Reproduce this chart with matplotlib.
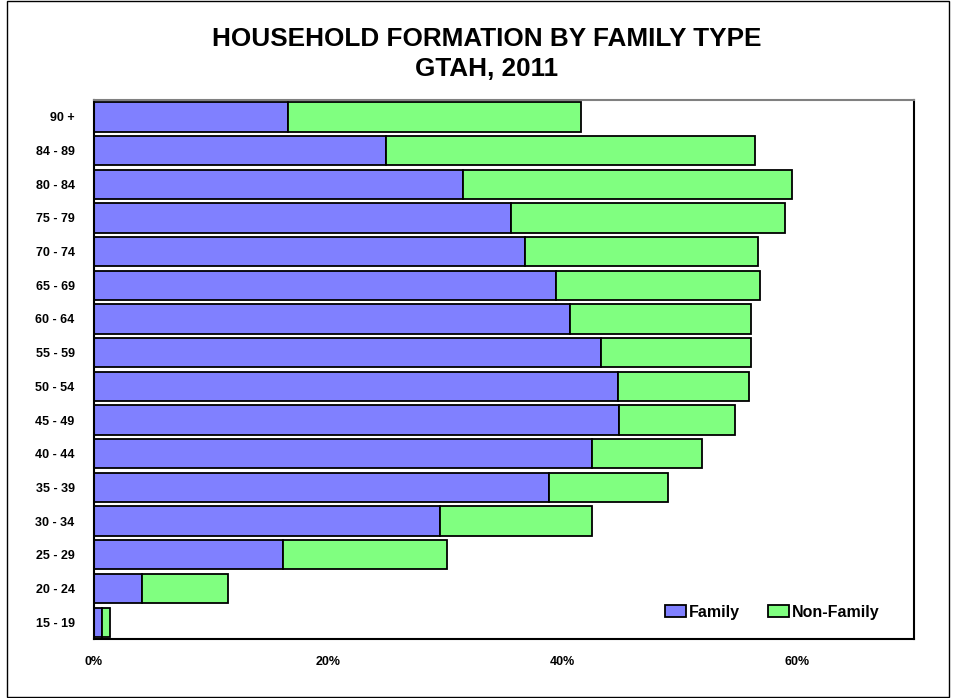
import matplotlib
matplotlib.use("Agg")
import matplotlib.pyplot as plt
from matplotlib.patches import Rectangle

# Age groups (bottom to top) and household formation shares (%)
age_groups = ["15 - 19", "20 - 24", "25 - 29", "30 - 34", "35 - 39", "40 - 44",
              "45 - 49", "50 - 54", "55 - 59", "60 - 64", "65 - 69", "70 - 74",
              "75 - 79", "80 - 84", "84 - 89", "90 +"]
family = [0.7, 4.1, 16.1, 29.5, 38.8, 42.5, 44.8, 44.7, 43.3, 40.6, 39.4, 36.8,
          35.6, 31.5, 24.9, 16.6]
non_family = [0.7, 7.3, 14.0, 13.0, 10.2, 9.4, 9.9, 11.2, 12.8, 15.5, 17.4, 19.9,
              23.4, 28.1, 31.5, 25.0]
x_ticks = [0, 20, 40, 60]
x_tick_labels = ["0%", "20%", "40%", "60%"]

plt.rcParams["font.family"] = ["Liberation Sans", "DejaVu Sans"]

fig = plt.figure(figsize=(9.56, 6.98), dpi=100)
ax = fig.add_axes([0.0983, 0.0845, 0.858, 0.7722])

ypos = list(range(len(age_groups)))
ax.barh(ypos, family, height=0.87, color="#8080FF", edgecolor="black",
        linewidth=1.3, label="Family")
ax.barh(ypos, non_family, left=family, height=0.87, color="#80FF80",
        edgecolor="black", linewidth=1.3, label="Non-Family")

ax.set_xlim(0, 70)
ax.set_ylim(-0.5, len(age_groups) - 0.5)
ax.set_yticks(ypos)
ax.set_yticklabels(age_groups, fontsize=9, fontweight="bold")
ax.set_xticks(x_ticks)
ax.set_xticklabels(x_tick_labels, fontsize=9, fontweight="bold")
ax.tick_params(axis="y", length=0, pad=14)
ax.tick_params(axis="x", length=0, pad=12)

for side in ("left", "right", "bottom"):
    ax.spines[side].set_color("black")
    ax.spines[side].set_linewidth(1.5)
ax.spines["top"].set_color("#808080")
ax.spines["top"].set_linewidth(1.5)

leg = ax.legend(loc="center", bbox_to_anchor=(0.827, 0.05), ncol=2, frameon=False,
                prop={"weight": "bold", "size": 11.5}, handlelength=1.3,
                handleheight=0.8, handletextpad=0.15, columnspacing=1.8)

fig.text(0.509, 0.9225, "HOUSEHOLD FORMATION BY FAMILY TYPE\nGTAH, 2011",
         ha="center", va="center", fontsize=18.8, fontweight="bold",
         linespacing=1.33)

# Outer frame around the whole chart
fig.add_artist(Rectangle((0.007, 0.002), 0.986, 0.996, transform=fig.transFigure,
                         fill=False, edgecolor="black", linewidth=1.0))

fig.savefig("out.png", dpi=100)
